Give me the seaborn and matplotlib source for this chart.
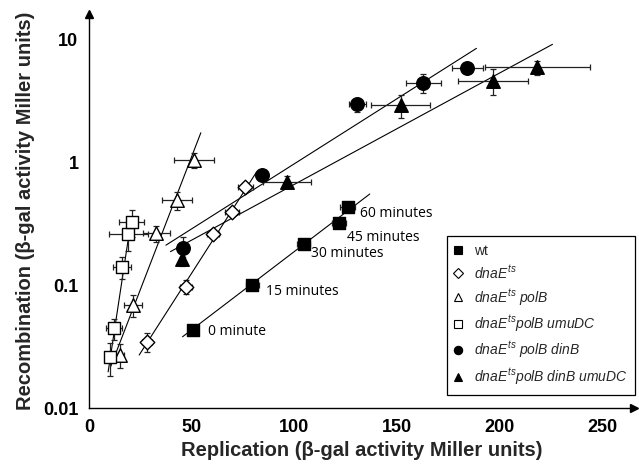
import numpy as np
import pandas as pd
import matplotlib
matplotlib.use("Agg")
import matplotlib.pyplot as plt
import seaborn as sns
from matplotlib.lines import Line2D

# ---------------- data ----------------
strains = ["wt", "dnaE", "dnaE_polB", "dnaE_polB_umuDC", "dnaE_polB_dinB", "dnaE_polB_dinB_umuDC"]

wt_x = [50.6, 79.5, 104.6, 121.8, 125.9]
wt_y = [0.043, 0.100, 0.215, 0.318, 0.428]
wt_xerr = [2.5, 3.2, 3.2, 3.5, 3.5]
wt_yerr = [0.004, 0.008, 0.015, 0.02, 0.03]

dnaE_x = [28.4, 47.5, 60.5, 69.7, 76.2]
dnaE_y = [0.0346, 0.097, 0.26, 0.394, 0.63]
dnaE_xerr = [2.5, 2.9, 3.0, 3.2, 3.6]
dnaE_yerr = [0.006, 0.012, 0.02, 0.03, 0.05]

polB_x = [15.1, 21.6, 32.9, 42.7, 51.1]
polB_y = [0.027, 0.069, 0.263, 0.49, 1.04]
polB_xerr = [2.0, 4.4, 6.5, 7.3, 9.7]
polB_yerr = [0.006, 0.014, 0.04, 0.085, 0.15]

umuDC_x = [10.2, 12.3, 16.2, 19.1, 20.8]
umuDC_y = [0.0261, 0.0444, 0.141, 0.258, 0.327]
umuDC_xerr = [2.0, 3.8, 4.4, 9.5, 5.9]
umuDC_yerr = [0.008, 0.0085, 0.028, 0.07, 0.08]

dinB_x = [45.9, 84.3, 130.6, 162.7, 184.1]
dinB_y = [0.199, 0.784, 2.94, 4.41, 5.78]
dinB_xerr = [1.2, 3.0, 4.2, 8.5, 7.6]
dinB_yerr = [0.045, 0.07, 0.4, 0.8, 0.4]

dinBumu_x = [45.4, 96.5, 151.8, 196.8, 218.2]
dinBumu_y = [0.163, 0.69, 2.90, 4.58, 5.89]
dinBumu_xerr = [1.2, 11.6, 14.4, 17.0, 25.6]
dinBumu_yerr = [0.02, 0.08, 0.6, 1.1, 0.75]

# trend lines (end points)
fit_x = {"wt": [45.6, 136.7], "dnaE": [24.5, 81.6], "dnaE_polB": [10.6, 54.5],
         "dnaE_polB_umuDC": [9.4, 20.5], "dnaE_polB_dinB": [37.5, 188.6],
         "dnaE_polB_dinB_umuDC": [39.7, 225.6]}
fit_y = {"wt": [0.038, 0.55], "dnaE": [0.027, 0.83], "dnaE_polB": [0.0217, 1.73],
         "dnaE_polB_umuDC": [0.0197, 0.33], "dnaE_polB_dinB": [0.211, 8.4],
         "dnaE_polB_dinB_umuDC": [0.187, 9.06]}

time_labels = ["0 minute", "15 minutes", "30 minutes", "45 minutes", "60 minutes"]
time_label_x = [57.8, 86.0, 108.0, 125.4, 131.9]
time_label_y = [0.0417, 0.0893, 0.181, 0.244, 0.385]

legend_labels = [
    "wt",
    r"$\mathit{dnaE}^{\mathit{ts}}$",
    r"$\mathit{dnaE}^{\mathit{ts}}\ \mathit{polB}$",
    r"$\mathit{dnaE}^{\mathit{ts}}\mathit{polB}\ \mathit{umuDC}$",
    r"$\mathit{dnaE}^{\mathit{ts}}\ \mathit{polB}\ \mathit{dinB}$",
    r"$\mathit{dnaE}^{\mathit{ts}}\mathit{polB}\ \mathit{dinB}\ \mathit{umuDC}$",
]

x_ticks = [0, 50, 100, 150, 200, 250]
y_ticks = [0.01, 0.1, 1, 10]
y_ticklabels = ["0.01", "0.1", "1", "10"]

# ---------------- tidy table ----------------
series = {
    "wt": (wt_x, wt_y, wt_xerr, wt_yerr),
    "dnaE": (dnaE_x, dnaE_y, dnaE_xerr, dnaE_yerr),
    "dnaE_polB": (polB_x, polB_y, polB_xerr, polB_yerr),
    "dnaE_polB_umuDC": (umuDC_x, umuDC_y, umuDC_xerr, umuDC_yerr),
    "dnaE_polB_dinB": (dinB_x, dinB_y, dinB_xerr, dinB_yerr),
    "dnaE_polB_dinB_umuDC": (dinBumu_x, dinBumu_y, dinBumu_xerr, dinBumu_yerr),
}
rows = []
for s in strains:
    xs, ys, xe, ye = series[s]
    for a, b, c, d in zip(xs, ys, xe, ye):
        rows.append(dict(strain=s, x=a, y=b, xerr=c, yerr=d))
df = pd.DataFrame(rows)

styles = {
    "wt": ("s", "black", 80),
    "dnaE": ("D", "white", 55),
    "dnaE_polB": ("^", "white", 95),
    "dnaE_polB_umuDC": ("s", "white", 80),
    "dnaE_polB_dinB": ("o", "black", 95),
    "dnaE_polB_dinB_umuDC": ("^", "black", 95),
}

# ---------------- figure ----------------
sns.set_theme(style="white")
plt.rcParams["font.family"] = ["Liberation Sans", "DejaVu Sans"]
plt.rcParams["mathtext.fontset"] = "custom"
plt.rcParams["mathtext.it"] = "Liberation Sans:italic"
plt.rcParams["mathtext.rm"] = "Liberation Sans"

fig, ax = plt.subplots(figsize=(6.39, 4.68), dpi=100)
fig.subplots_adjust(left=0.139, right=0.992, bottom=0.128, top=0.970)

for s in strains:
    sub = df[df.strain == s]
    ax.errorbar(sub.x, sub.y, xerr=sub.xerr, yerr=sub.yerr, fmt="none",
                ecolor="#222222", elinewidth=0.9, capsize=2.5, capthick=0.9, zorder=2)
    sns.lineplot(x=fit_x[s], y=fit_y[s], ax=ax, color="black", linewidth=0.8,
                 estimator=None, sort=False, zorder=1)
    m, fc, sz = styles[s]
    sns.scatterplot(data=sub, x="x", y="y", ax=ax, marker=m, color=fc,
                    edgecolor="black", linewidth=1.0, s=sz, zorder=3, legend=False)

for t, tx, ty in zip(time_labels, time_label_x, time_label_y):
    ax.text(tx, ty, t, fontsize=10, family=["Open Sans", "DejaVu Sans"],
            ha="left", va="center", color="black")

ax.set_yscale("log")
ax.set_xlim(0, 265.2)
ax.set_ylim(0.01, 15.97)
ax.set_xticks(x_ticks)
ax.set_xticklabels([str(v) for v in x_ticks])
ax.set_yticks(y_ticks)
ax.set_yticklabels(y_ticklabels)
ax.minorticks_off()
ax.tick_params(axis="both", which="major", direction="out", length=4, width=1,
               color="black", labelsize=13, labelcolor="black")
for lab in ax.get_xticklabels() + ax.get_yticklabels():
    lab.set_fontweight("bold")

for sp in ["top", "right"]:
    ax.spines[sp].set_visible(False)
for sp in ["left", "bottom"]:
    ax.spines[sp].set_color("black")
    ax.spines[sp].set_linewidth(1.0)
ax.plot(1, 0, ">", color="black", ms=6, transform=ax.transAxes, clip_on=False, zorder=5)
ax.plot(0, 1, "^", color="black", ms=6, transform=ax.transAxes, clip_on=False, zorder=5)

ax.set_xlabel("Replication (β-gal activity Miller units)", fontsize=14.5,
              fontweight="bold", labelpad=4)
ax.set_ylabel("Recombination (β-gal activity Miller units)", fontsize=14.5,
              fontweight="bold", labelpad=6)

handles = []
for s in strains:
    m, fc, sz = styles[s]
    handles.append(Line2D([], [], linestyle="none", marker=m, markerfacecolor=fc,
                          markeredgecolor="black", markeredgewidth=0.8,
                          markersize=6 if m != "D" else 5))
leg = ax.legend(handles, legend_labels, loc="upper left", bbox_to_anchor=(0.6563, 0.4365),
                frameon=True, fancybox=False, edgecolor="black", framealpha=1,
                fontsize=10, handlelength=0.6, handletextpad=0.8, labelspacing=0.42,
                borderpad=0.55, borderaxespad=0)
leg.get_frame().set_linewidth(0.9)

fig.savefig("out.png", dpi=100)
